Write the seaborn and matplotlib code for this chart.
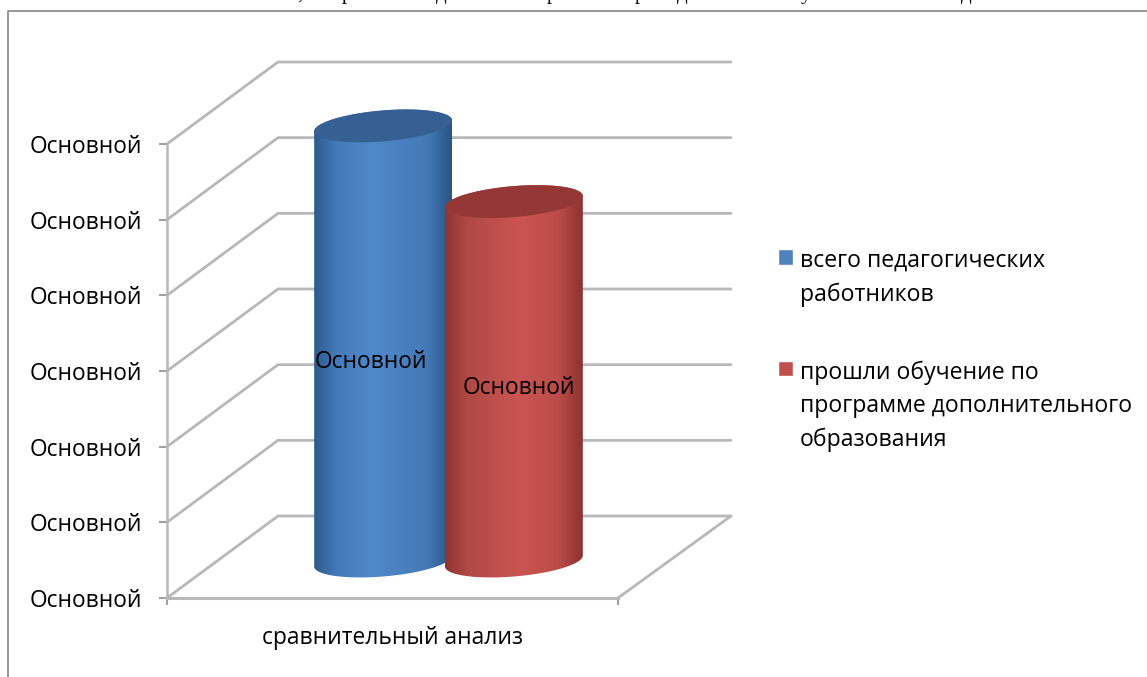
import numpy as np
import pandas as pd
import seaborn as sns
from matplotlib import pyplot as plt
from matplotlib.colors import LinearSegmentedColormap
from matplotlib.path import Path
from matplotlib.patches import PathPatch

W, H = 1147, 677

categories = ['сравнительный анализ']
series_names = ['всего педагогических\nработников',
                'прошли обучение по\nпрограмме дополнительного\nобразования']
series_values = [5.75, 4.75]
y_ticks = [0, 1, 2, 3, 4, 5, 6]
y_labels = ['Основной'] * 7
bar_labels = ['Основной', 'Основной']
title_glyphs = [',', 'р', 'д', 'р', 'р', 'д', 'у', 'д']

colors = ['#4f81bd', '#c0504d']
top_colors = ['#376092', '#953735']
side_stops = [['#2d5a8c', '#447ab8', '#5089cb', '#4579b6', '#2a5585'],
              ['#8e3431', '#b04845', '#cb5552', '#bc4c49', '#8c3230']]
grid_color = '#b8b8b8'
font = 'Open Sans'
fs = 16.4

sns.set_theme(style='white')
plt.rcParams['font.family'] = [font, 'DejaVu Sans']

df = pd.DataFrame({'category': categories * 2, 'series': series_names, 'value': series_values})

fig = plt.figure(figsize=(W / 100, H / 100), dpi=100, facecolor='white')


def px_axes(left, top, right, bottom, zorder):
    return fig.add_axes([left / W, 1 - bottom / H, (right - left) / W, (bottom - top) / H], zorder=zorder)


# pixel canvases for the fake 3d walls and the cylinders
back = px_axes(0, 0, W, H, 0)
back.set_xlim(0, W)
back.set_ylim(H, 0)
back.axis('off')

front = px_axes(167, 144, 618, 598, 1)
front.patch.set_alpha(0)
front.set_xlim(-0.5, 0.5)
front.set_ylim(y_ticks[0], y_ticks[-1])
front.set_yticks(y_ticks, y_labels, fontsize=fs, color='black')
front.set_xticks([0], categories, fontsize=fs, color='black')
front.set_xticks([-0.5, 0.5], minor=True)
front.tick_params(axis='y', length=5.8, width=1.5, color='#a0a0a0', pad=12.3, left=True)
front.tick_params(axis='x', which='major', length=0, pad=20)
front.tick_params(axis='x', which='minor', length=5, width=1.5, color='#a0a0a0', bottom=True)
sns.despine(ax=front)
front.spines['left'].set(color=grid_color, linewidth=1.8)
front.spines['bottom'].set(color=grid_color, linewidth=2.2)

# bars stand half way back on the floor
bars = px_axes(167 + 56, 144 - 37, 618 + 56, 598 - 37, 2)
sns.barplot(data=df, x='category', y='value', hue='series', hue_order=series_names,
            palette=colors, saturation=1, width=0.58, gap=0, ax=bars)
bars.set_xlim(-0.5, 0.5)
bars.set_ylim(y_ticks[0], y_ticks[-1])
bars.axis('off')
bars.patch.set_alpha(0)

over = px_axes(0, 0, W, H, 3)
over.patch.set_alpha(0)
over.axis('off')

# walls and floor
dx, dy = 111, -82
for v in y_ticks:
    y = H - front.transData.transform((0, v))[1]
    back.plot([167, 167 + dx, 731], [y, y + dy, y + dy], color=grid_color, lw=2,
              solid_joinstyle='miter', zorder=1)
back.plot([618, 731], [598, 598 + dy], color=grid_color, lw=2, zorder=1)

# frame of the chart, cut by the page
back.plot([8, 8, W], [H, 11, 11], color='#8f8f8f', lw=1.3, zorder=1)

# only the bottoms of the heading letters are left on the page
for glyph, x in zip(title_glyphs, [300, 347, 441, 552, 640, 682, 806, 966]):
    back.text(x, -1, glyph, family='Liberation Serif', fontsize=15, ha='center', va='baseline',
              color='black', clip_on=False)

# cylinders over the bar rectangles
t = np.linspace(0, np.pi, 60)
grad = np.linspace(0, 1, 256).reshape(1, -1)
rects = [p for c in bars.containers for p in c]
for i, rect in enumerate(rects):
    (x0, y0), (x1, y1) = rect.get_window_extent(fig.canvas.get_renderer()).get_points()
    cx = (x0 + x1) / 2
    a = (x1 - x0) / 2 * 1.054
    top_y, base_y = H - y1, H - y0
    tilt, b = 5.5, 15.5

    ex = cx + a * np.cos(t)
    front_edge = -tilt * np.cos(t) + b * np.sin(t)
    back_edge = -tilt * np.cos(t) - b * np.sin(t)

    body = np.vstack([
        np.column_stack([ex[::-1], base_y + front_edge[::-1]]),
        np.column_stack([ex, top_y + back_edge]),
        [[ex[-1], base_y + front_edge[-1]]],
    ])
    clip = PathPatch(Path(body), transform=over.transData, facecolor='none', edgecolor='none', zorder=2 + i * 3)
    over.add_patch(clip)

    stops = [0, 0.16, 0.42 + i * 0.12, 0.82, 1]
    cmap = LinearSegmentedColormap.from_list('side', list(zip(stops, side_stops[i])))
    im = over.imshow(grad, cmap=cmap, extent=(cx - a, cx + a, base_y + 20, top_y - 20),
                     aspect='auto', zorder=3 + i * 3)
    im.set_clip_path(clip)

    lid = np.vstack([np.column_stack([ex, top_y + back_edge]),
                     np.column_stack([ex[::-1], top_y + front_edge[::-1]])])
    over.fill(lid[:, 0], lid[:, 1], color=top_colors[i], lw=0, zorder=4 + i * 3)

    rect.set_clip_path(PathPatch(Path(body), transform=over.transData))

over.set_xlim(0, W)
over.set_ylim(H, 0)

# data labels sit a little off the middle of each bar
label_offsets = [(-8.5, -13.5), (3.5, -5)]
for container, text, off in zip(bars.containers, bar_labels, label_offsets):
    rect = container[0]
    over.annotate(text, (rect.get_x() + rect.get_width() / 2, rect.get_height() / 2),
                  xycoords=bars.transData, xytext=off, textcoords='offset points',
                  ha='center', va='center', fontsize=fs, color='black', zorder=20)

sns.move_legend(bars, loc='upper left', bbox_to_anchor=(778 / W, 1 - 249 / H),
                bbox_transform=fig.transFigure, title=None, frameon=False, fontsize=fs + 0.2,
                labelcolor='black', labelspacing=2.35, handlelength=0.66, handleheight=0.66,
                handletextpad=0.3, borderpad=0, borderaxespad=0, ncol=1)
legend = bars.get_legend()
for text in legend.get_texts():
    text.set_linespacing(1.5)
for row in legend._legend_handle_box.get_children()[0].get_children():
    row.align = 'top'

fig.savefig('out.png', dpi=100)
